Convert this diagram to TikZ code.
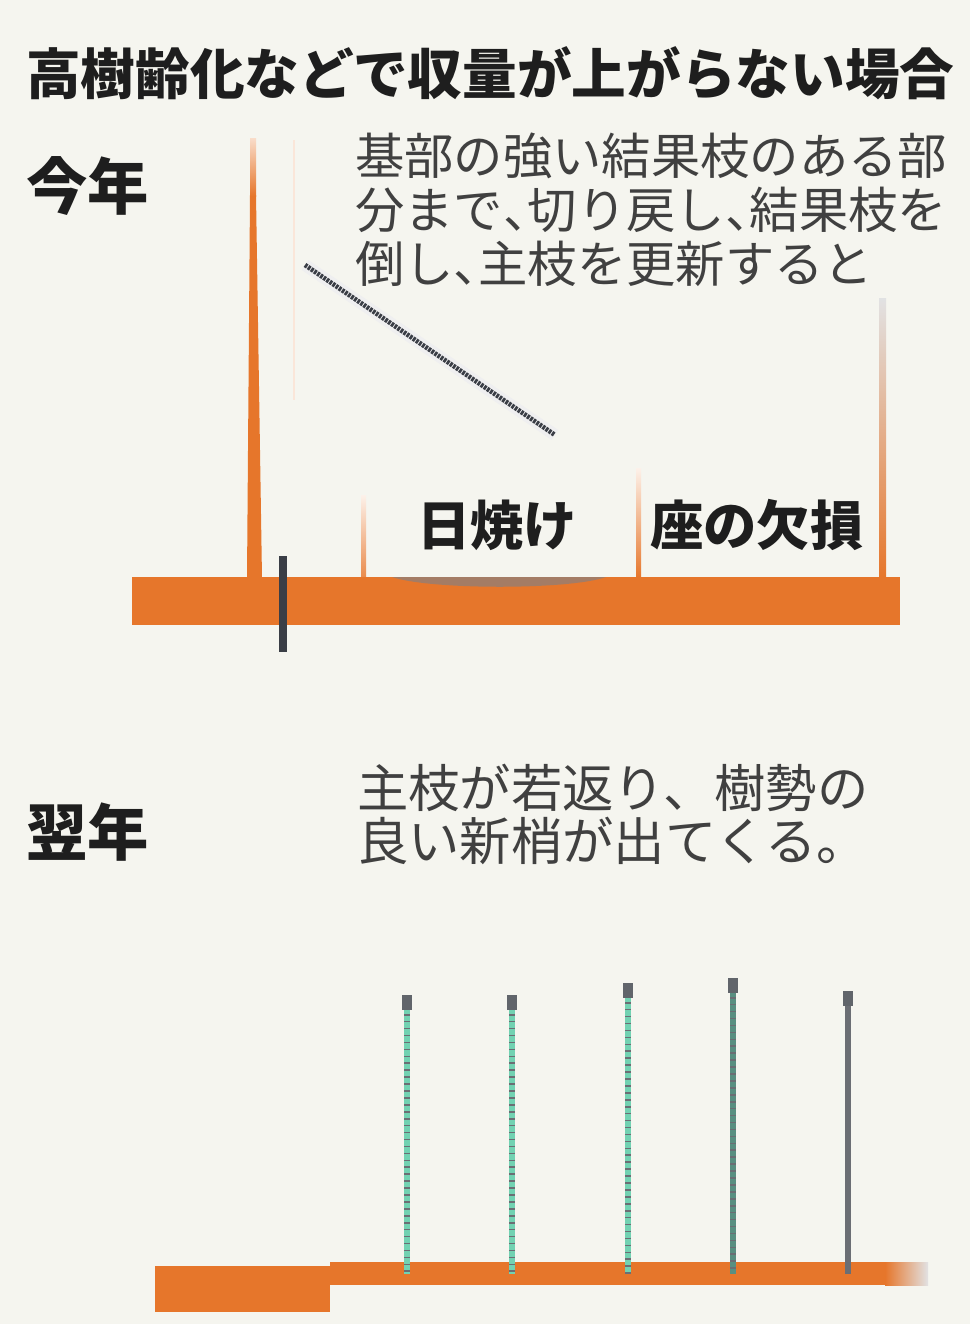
\documentclass[tikz,border=0pt]{standalone}
\usepackage{fontspec}
\newfontfamily\jp{Noto Sans CJK JP}
\usepackage{tikz}
\usepackage{xcolor}

\definecolor{paper}{HTML}{F5F5EF}
\definecolor{wood}{HTML}{E6762B}
\definecolor{bark}{HTML}{3A3E46}
\definecolor{shoot}{HTML}{72D2B2}
\definecolor{ink}{HTML}{1E1E1E}
\definecolor{sunburn}{HTML}{6E8296}

% half-width comma
\newcommand\tk{\makebox[.5em][l]{、}}

\tikzset{
	head/.style={anchor=west, inner sep=0pt, text=ink, font=\jp\bfseries\fontsize{41}{41}\selectfont},
	yearlabel/.style={anchor=west, inner sep=0pt, text=ink, font=\jp\bfseries\fontsize{46}{46}\selectfont},
	note/.style={anchor=west, inner sep=0pt, text=ink!85, font=\jp\fontsize{37}{37}\selectfont},
	tag/.style={anchor=west, inner sep=0pt, text=ink, font=\jp\bfseries\fontsize{40}{40}\selectfont},
}

\begin{document}
\begin{tikzpicture}[x=0.75pt,y=-0.75pt]
	\fill[paper] (0,0) rectangle (970,1324);

	% titles
	\node[head] (title) at (26,73) {高樹齢化などで収量が上がらない場合};
	\node[yearlabel] (thisyear) at (26,186) {今年};
	\node[yearlabel] (nextyear) at (26,832) {翌年};

	\foreach \txt [count=\i] in {基部の強い結果枝のある部, 分まで\tk 切り戻し\tk 結果枝を, 倒し\tk 主枝を更新すると}
	  \node[note] (cut\i) at (355,{102+54*\i}) {\txt};
	\foreach \txt [count=\i] in {主枝が若返り、樹勢の, 良い新梢が出てくる。}
	  \node[note, font=\jp\fontsize{38.5}{38.5}\selectfont] (next\i) at (357,{735+53*\i}) {\txt};

	% this year: old branches
	\draw[wood!18, line width=2pt] (294,140) -- (294,400);
	\fill[wood] (247,578) -- (250,195) -- (256,195) -- (262,578) -- cycle;
	\shade[top color=wood!25, bottom color=wood] (250,138) rectangle (256,196);
	\shade[top color=wood!10, bottom color=wood!85] (361,495) rectangle (366,578);
	\shade[top color=wood!10, bottom color=wood] (636,468) rectangle (641,578);
	\shade[top color=bark!15, bottom color=wood] (879,298) rectangle (886,578);

	% fallen fruiting branch
	\coordinate (fallA) at (305,265);
	\coordinate (fallB) at (555,435);
	\draw[bark!8, line width=9pt] (fallA) -- (fallB);
	\draw[bark, line width=3.5pt, dash pattern=on 2pt off 0.8pt] (fallA) -- (fallB);

	% main limb
	\fill[wood] (132,577) rectangle (900,625);
	\fill[sunburn, opacity=.55] (392,577) .. controls (430,590) and (570,590) .. (606,577) -- cycle;
	\fill[bark] (279,556) rectangle (287,652);

	\node[tag] (sun) at (417,525) {日焼け};
	\node[tag] (seat) at (650,525) {座の欠損};

	% next year: renewed limb
	\fill[wood] (155,1266) rectangle (330,1312);
	\fill[wood] (330,1262) rectangle (885,1285);
	\shade[left color=wood, middle color=yellow!50!wood, right color=bark!15] (885,1262) rectangle (928,1285);

	\foreach \x/\top/\col in {407/997/shoot, 512/997/shoot, 628/985/shoot, 733/980/shoot!55!bark, 848/993/bark!75} {
	  \draw[\col, line width=4pt] (\x,\top) -- (\x,1274);
	  \draw[bark!75, line width=4.5pt, dash pattern=on 1.2pt off 4pt] (\x,{\top+10}) -- (\x,1274);
	  \fill[bark!80] ({\x-5},{\top-2}) rectangle ({\x+5},{\top+13});
	};
\end{tikzpicture}
\end{document}
